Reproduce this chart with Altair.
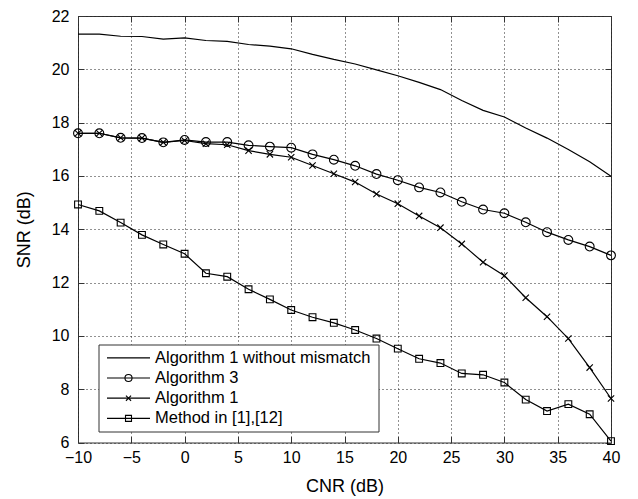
import altair as alt
import pandas as pd

cnr = list(range(-10, 41, 2))
snr_no_mismatch = [21.32, 21.32, 21.24, 21.23, 21.13, 21.18, 21.08, 21.05, 20.93, 20.87,
                   20.77, 20.56, 20.37, 20.20, 19.98, 19.76, 19.51, 19.24, 18.83, 18.46,
                   18.21, 17.80, 17.42, 16.99, 16.53, 15.99]
snr_alg3 = [17.60, 17.60, 17.43, 17.42, 17.26, 17.35, 17.27, 17.27, 17.15, 17.10,
            17.06, 16.81, 16.61, 16.38, 16.07, 15.84, 15.57, 15.38, 15.03, 14.74,
            14.60, 14.26, 13.89, 13.60, 13.35, 13.02]
snr_alg1 = [17.60, 17.60, 17.43, 17.42, 17.26, 17.33, 17.21, 17.17, 16.95, 16.81,
            16.70, 16.39, 16.08, 15.77, 15.32, 14.96, 14.50, 14.06, 13.45, 12.76,
            12.26, 11.43, 10.72, 9.90, 8.81, 7.65]
snr_method = [14.93, 14.69, 14.25, 13.79, 13.43, 13.08, 12.35, 12.22, 11.75, 11.37,
              10.97, 10.70, 10.49, 10.22, 9.90, 9.52, 9.14, 8.98, 8.59, 8.54,
              8.25, 7.61, 7.18, 7.44, 7.06, 6.05]
series_names = ["Algorithm 1 without mismatch", "Algorithm 3", "Algorithm 1", "Method in [1],[12]"]
x_ticks = list(range(-10, 41, 5))
y_ticks = list(range(6, 23, 2))

FONT = "Liberation Sans"
AX = "#333333"
X_PATH = "M-1,-1L1,1M-1,1L1,-1"

rows = []
for name, vals in zip(series_names, [snr_no_mismatch, snr_alg3, snr_alg1, snr_method]):
    for c, v in zip(cnr, vals):
        rows.append({"cnr": c, "snr": v, "series": name})
df = pd.DataFrame(rows)

xscale = alt.Scale(domain=[-10, 40], nice=False, zero=False)
yscale = alt.Scale(domain=[6, 22], nice=False, zero=False)

x_main = alt.X("cnr:Q", scale=xscale, axis=alt.Axis(
    values=x_ticks, format="d", grid=True, gridDash=[1, 3], gridColor="#222222", gridWidth=1,
    domain=False, ticks=True, tickSize=6, tickColor=AX, offset=-6, labelPadding=7,
    labelFlush=False, labelFont=FONT, labelFontSize=16, labelColor="black",
    title="CNR (dB)", titleFont=FONT, titleFontSize=18, titleFontWeight="normal",
    titleColor="black", titlePadding=12))
y_main = alt.Y("snr:Q", scale=yscale, axis=alt.Axis(
    values=y_ticks, format="d", grid=True, gridDash=[1, 3], gridColor="#222222", gridWidth=1,
    domain=False, ticks=True, tickSize=6, tickColor=AX, offset=-6, labelPadding=9,
    labelFlush=False, labelFont=FONT, labelFontSize=16, labelColor="black",
    title="SNR (dB)", titleFont=FONT, titleFontSize=18, titleFontWeight="normal",
    titleColor="black", titlePadding=18))
x_top = alt.X("cnr:Q", scale=xscale, axis=alt.Axis(
    orient="top", values=x_ticks, labels=False, grid=False, domain=False,
    tickSize=6, tickColor=AX, offset=-6, title=None))
y_right = alt.Y("snr:Q", scale=yscale, axis=alt.Axis(
    orient="right", values=y_ticks, labels=False, grid=False, domain=False,
    tickSize=6, tickColor=AX, offset=-6, title=None))
x_none = alt.X("cnr:Q", scale=xscale, axis=None)
y_none = alt.Y("snr:Q", scale=yscale, axis=None)

base = alt.Chart(df)
lines = base.mark_line(color="black", strokeWidth=1.2).encode(x=x_main, y=y_main, detail="series:N")
circles = base.transform_filter(alt.datum.series == series_names[1]).mark_point(
    shape="circle", size=78, filled=False, color="black", strokeWidth=1.1, opacity=1
).encode(x=x_top, y=y_right)
crosses = base.transform_filter(alt.datum.series == series_names[2]).mark_point(
    shape=X_PATH, size=40, filled=False, color="black", strokeWidth=1.1, opacity=1
).encode(x=x_none, y=y_none)
squares = base.transform_filter(alt.datum.series == series_names[3]).mark_point(
    shape="square", size=46, filled=False, color="black", strokeWidth=1.1, opacity=1
).encode(x=x_none, y=y_none)

# legend (drawn manually in MATLAB style)
leg_df = pd.DataFrame({"label": series_names})
legend_layers = [
    alt.Chart(leg_df.head(1)).mark_rect(fill="white", stroke=AX, strokeWidth=1).encode(
        x=alt.value(21), x2=alt.value(301), y=alt.value(329), y2=alt.value(416))
]
row_y0, row_dy = 341.8, 20.2
marker_specs = [None, ("circle", 50), (X_PATH, 26), ("square", 36)]
for i, name in enumerate(series_names):
    ry = row_y0 + i * row_dy
    one = alt.Chart(leg_df.iloc[[i]])
    legend_layers.append(one.mark_rule(color="black", strokeWidth=1.2).encode(
        x=alt.value(29), x2=alt.value(72), y=alt.value(ry)))
    if marker_specs[i] is not None:
        shp, sz = marker_specs[i]
        legend_layers.append(one.mark_point(shape=shp, size=sz, filled=False, color="black",
                                            strokeWidth=1.1, opacity=1).encode(
            x=alt.value(50.5), y=alt.value(ry)))
    legend_layers.append(one.mark_text(align="left", baseline="middle", font=FONT,
                                       fontSize=16.5, color="black").encode(
        x=alt.value(77), y=alt.value(ry), text="label:N"))

chart = alt.layer(lines, circles, crosses, squares, *legend_layers).resolve_axis(
    x="independent", y="independent"
).properties(
    width=533, height=426.5,
    padding={"left": 70, "top": 8, "right": 10, "bottom": 56},
    autosize=alt.AutoSizeParams(type="none"),
    background="white",
).configure_view(stroke=AX, strokeWidth=1)

chart.save("out.html", embed_options={"renderer": "svg", "actions": False})
